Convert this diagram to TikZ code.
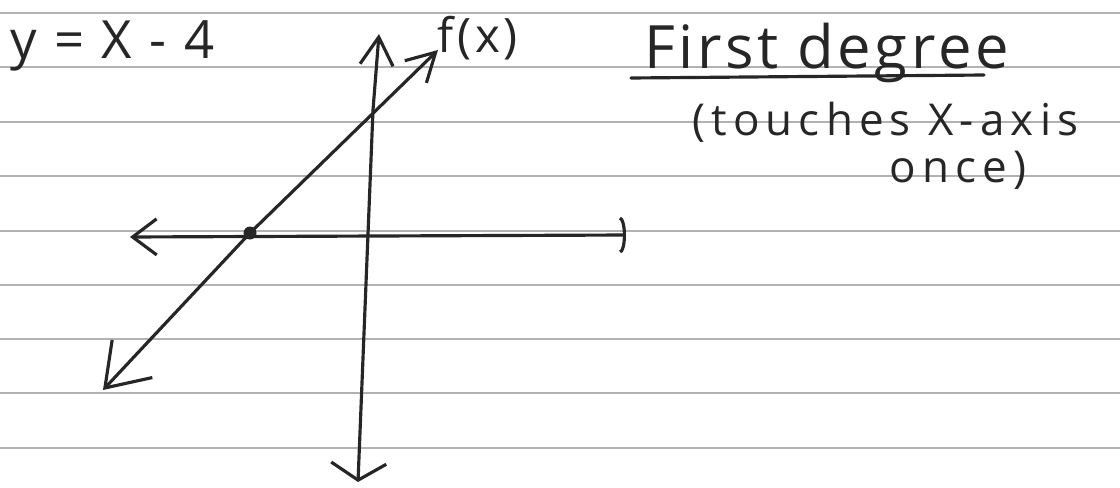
\documentclass[tikz,border=0pt]{standalone}
\usepackage{fontspec}
\setmainfont{Open Sans}
\usetikzlibrary{arrows.meta}

\begin{document}
\begin{tikzpicture}[
  x=0.2mm, y=-0.2mm,
  rule/.style={gray!60, line width=0.6pt},
  ink/.style={black!85, line width=1.8pt, line cap=round, line join=round},
  hand/.style={inner sep=0pt, anchor=base west, text=black!85},
  dot/.style={circle, fill=black!85, inner sep=0pt, minimum size=2.6mm}
]
  \useasboundingbox (0,0) rectangle (1120,487);

  % --- ruled paper
  \foreach \y in {13,67,122,176,231,285,339,393,448}
    \draw[rule] (0,\y) -- (1120,\y);

  % --- axes
  \coordinate (ytop) at (379,34);
  \coordinate (ybot) at (358,482);
  \coordinate (xleft) at (130,237);
  \coordinate (xright) at (626,235);
  \draw[ink, {Straight Barb[length=5.6mm, width=6.6mm]}-{Straight Barb[length=3.4mm, width=11mm]}]
    (ytop) -- (373,110) -- (ybot);
  \draw[ink, {Straight Barb[length=4.8mm, width=7.2mm]}-{Arc Barb[length=1.2mm, width=7.4mm]}]
    (xleft) -- (xright);

  % --- the line y = x - 4
  \node[dot] (root) at (250,233) {};
  \coordinate (lo) at (103,390);
  \coordinate (hi) at (438,50);
  \draw[ink, -{Straight Barb[length=8mm, width=11mm]}] (root.center) -- (lo);
  \draw[ink, -{Straight Barb[length=5.6mm, width=6.2mm]}] (root.center) -- (hi);

  % --- labels
  \node[hand, font=\fontsize{30}{34}\selectfont\addfontfeatures{LetterSpace=7}] (eq) at (10,58) {y = X - 4};
  \node[hand, font=\fontsize{27}{30}\selectfont\addfontfeatures{LetterSpace=8}] (fx) at (437,52) {f(x)};
  \node[hand, font=\fontsize{34}{38}\selectfont\addfontfeatures{LetterSpace=6}] (title) at (644,68) {First degree};
  \draw[ink] ([shift={(-13,10)}]title.base west) -- ([shift={(-25,7)}]title.base east);
  \node[hand, font=\fontsize{25}{28}\selectfont\addfontfeatures{LetterSpace=14}] (note) at (692,135) {(touches X-axis};
  \node[hand, font=\fontsize{25}{28}\selectfont\addfontfeatures{LetterSpace=14}] (once) at (889,182) {once)};
\end{tikzpicture}
\end{document}
